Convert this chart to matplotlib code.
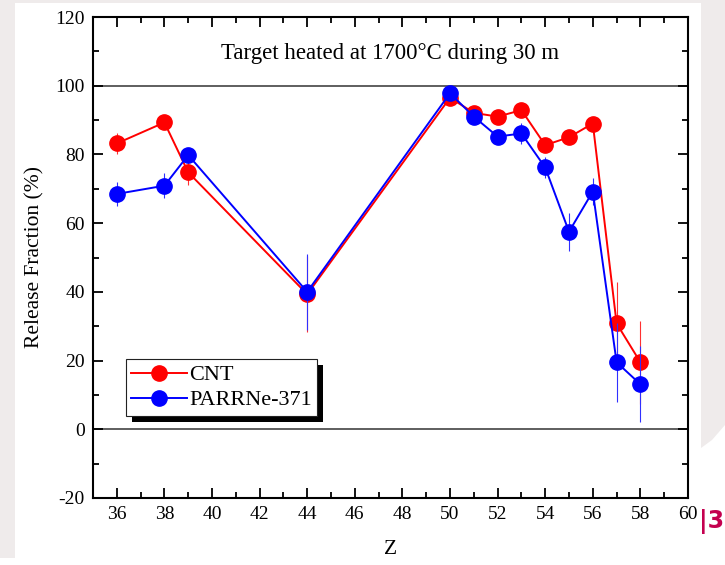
import matplotlib
matplotlib.use("Agg")
import matplotlib.pyplot as plt
from matplotlib.patches import Rectangle, Polygon
from matplotlib.lines import Line2D
from matplotlib.ticker import MultipleLocator

# Release fractions versus atomic number Z
z = [36, 38, 39, 44, 50, 51, 52, 53, 54, 55, 56, 57, 58]
cnt = [83.2, 89.3, 74.8, 39.3, 96.5, 92.1, 91.0, 92.9, 82.7, 85.0, 89.0, 30.8, 19.5]
cnt_err = [3.0, 2.0, 3.7, 11.0, 1.5, 1.5, 1.5, 1.5, 2.0, 2.0, 1.5, 12.0, 12.0]
parr = [68.5, 70.9, 79.8, 40.0, 97.8, 91.0, 85.2, 86.1, 76.2, 57.5, 69.2, 19.5, 13.1]
parr_err = [3.5, 3.6, 2.0, 11.0, 1.5, 2.0, 1.5, 3.0, 3.0, 5.5, 4.0, 11.5, 11.0]

xticks = list(range(36, 61, 2))
yticks = list(range(-20, 121, 20))

plt.rcParams['font.family'] = ['Liberation Serif', 'DejaVu Serif']
plt.rcParams['axes.unicode_minus'] = False

W, H = 725, 565
fig = plt.figure(figsize=(W / 100, H / 100), dpi=100)
fig.patch.set_facecolor('white')

# slide-style background strips
bg = '#efebeb'
fig.patches.append(Rectangle((0, 1 - 3 / H), 1, 3 / H, transform=fig.transFigure,
                             facecolor=bg, edgecolor='none', zorder=0))
fig.patches.append(Rectangle((0, 1 - 558 / H), 15 / W, 558 / H, transform=fig.transFigure,
                             facecolor=bg, edgecolor='none', zorder=0))
fig.patches.append(Polygon([(701 / W, 1), (1, 1), (1, 1 - 425 / H), (712 / W, 1 - 440 / H),
                            (701 / W, 1 - 448 / H)],
                           closed=True, transform=fig.transFigure,
                           facecolor=bg, edgecolor='none', zorder=0))

ax = fig.add_axes([93 / W, (H - 498) / H, (688 - 93) / W, (498 - 17) / H])

red, blue = '#ff0000', '#0000ff'
ax.errorbar(z, cnt, yerr=cnt_err, color=red, ecolor='#ff3030', elinewidth=0.8,
            capsize=0, marker='o', markersize=11, linewidth=1.4, zorder=3)
ax.errorbar(z, parr, yerr=parr_err, color=blue, ecolor='#3030ff', elinewidth=0.8,
            capsize=0, marker='o', markersize=11, linewidth=1.4, zorder=4)

ax.axhline(100, color='#333333', linewidth=1.1, zorder=1)
ax.axhline(0, color='#333333', linewidth=1.1, zorder=1)

ax.set_xlim(35, 60)
ax.set_ylim(-20, 120)
ax.set_xticks(xticks)
ax.set_yticks(yticks)
ax.xaxis.set_minor_locator(MultipleLocator(1))
ax.yaxis.set_minor_locator(MultipleLocator(10))
ax.tick_params(which='both', direction='in', top=True, right=True, width=1.3,
               labelsize=14, pad=6)
ax.tick_params(which='major', length=7)
ax.tick_params(which='minor', length=4)
for s in ax.spines.values():
    s.set_linewidth(1.5)

ax.set_xlabel('Z', fontsize=15.5, labelpad=12)
ax.set_ylabel('Release Fraction (%)', fontsize=15.5, labelpad=8)

ax.text(0.5, 0.925, 'Target heated at 1700\u00b0C during 30 m', transform=ax.transAxes,
        ha='center', va='center', fontsize=16.5)

handles = [Line2D([], [], color=red, marker='o', markersize=11, linewidth=1.4),
           Line2D([], [], color=blue, marker='o', markersize=11, linewidth=1.4)]
leg = ax.legend(handles, ['CNT', 'PARRNe-371'], loc='upper left',
                bbox_to_anchor=((125.7 - 93) / 595, (498 - 359.3) / 481),
                fontsize=16, frameon=True, fancybox=False, edgecolor='#222222',
                facecolor='white', framealpha=1.0,
                borderpad=0.25, handlelength=2.5, handletextpad=0.1, labelspacing=0.2,
                borderaxespad=0)
leg.get_frame().set_linewidth(0.8)
leg.set_zorder(6)

# drop shadow behind the legend box
fig.canvas.draw()
bb = leg.get_window_extent()
off = 6
shadow = Rectangle(((bb.x0 + off) / W, (bb.y0 - off) / H), bb.width / W, bb.height / H,
                   transform=fig.transFigure, facecolor='black', edgecolor='none', zorder=5)
shadow.set_clip_on(False)
ax.add_artist(shadow)

fig.text(699 / W, 1 - 521 / H, '|3', color='#c4004f', fontsize=17, fontweight='bold',
         family='DejaVu Sans', ha='left', va='center')

fig.savefig('out.png', dpi=100)
